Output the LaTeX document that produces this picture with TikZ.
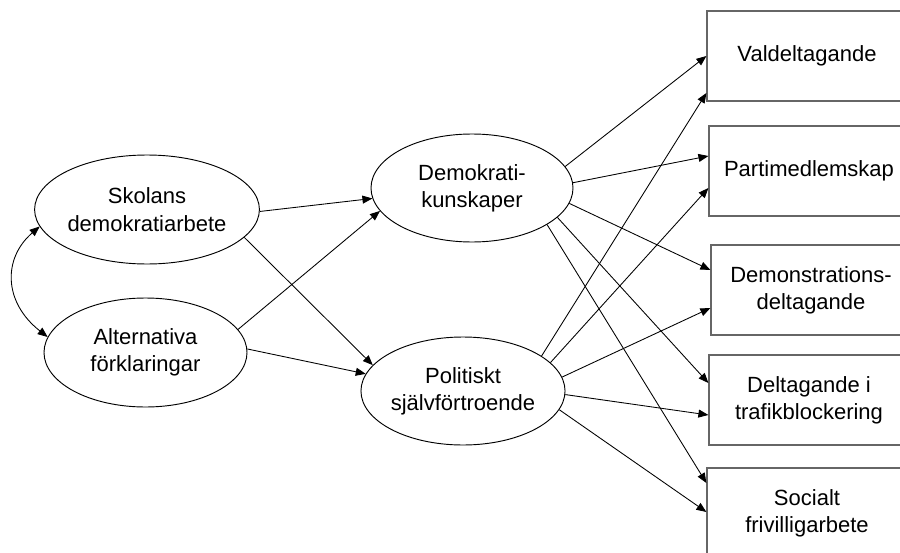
\documentclass[tikz,border=0pt]{standalone}
\usepackage{fontspec}
\setmainfont{Liberation Sans}
\usetikzlibrary{shapes.geometric,arrows.meta}
\begin{document}
\begin{tikzpicture}[x=0.75pt,y=-0.75pt,
  labelfont/.style={font=\fontsize{16.5}{20.5}\selectfont},
  latent/.style={ellipse,draw=black,line width=0.7pt,inner sep=0pt,
    align=center,labelfont},
  outcome/.style={rectangle,draw=black!60,line width=0.9pt,inner sep=0pt,
    minimum width=150pt,minimum height=67.5pt,align=center,labelfont},
  link/.style={-{Triangle[length=7.5pt,width=6pt]},line width=0.65pt},
  covar/.style={{Triangle[length=7.5pt,width=6pt]}-{Triangle[length=7.5pt,width=6pt]},line width=0.65pt}
]
% frame of the page
\useasboundingbox (0,0) rectangle (900,553);
\clip (0,0) rectangle (900,553);

% latent variables
\node[latent,minimum width=151.5pt,minimum height=81.75pt] (S) at (147,209.5) {Skolans\\demokratiarbete};
\node[latent,minimum width=152.25pt,minimum height=81.75pt] (A) at (145.5,352.5) {Alternativa\\förklaringar};
\node[latent,minimum width=151.5pt,minimum height=81pt] (D) at (472,188) {Demokrati-\\kunskaper};
\node[latent,minimum width=150pt,minimum height=81pt] (P) at (463,391) {Politiskt\\självförtroende};

% outcome measures
\node[outcome] (V)   at (807,56)  {Valdeltagande};
\node[outcome] (Pm)  at (809,171) {Partimedlemskap};
\node[outcome] (Dm)  at (811,290) {Demonstrations-\\deltagande};
\node[outcome] (Tb)  at (809,400) {Deltagande i\\trafikblockering};
\node[outcome] (Sf)  at (807,513) {Socialt\\frivilligarbete};

% correlation between the exogenous variables
\draw[covar] (S.189) .. controls (3,258) and (3,302) .. (A.171);

% paths into the mediators
\draw[link] (S.-1)  -- (D.186);
\draw[link] (S.-16) -- (P.164);
\draw[link] (A.14)  -- (D.194);
\draw[link] (A.2.5) -- (P.170.5);

% paths from Demokratikunskaper
\draw[link] (D.13)  -- ([yshift=0pt]V.west);
\draw[link] (D.3)   -- ([yshift=11.25pt]Pm.west);
\draw[link] (D.-9)  -- ([yshift=15pt]Dm.west);
\draw[link] (D.-19) -- ([yshift=12.75pt]Tb.west);
\draw[link] (D.-26) -- ([yshift=22.5pt]Sf.west);

% paths from Politiskt självförtroende
\draw[link] (P.24.5) -- ([yshift=-27.75pt]V.west);
\draw[link] (P.18)   -- ([yshift=-12.75pt]Pm.west);
\draw[link] (P.8)    -- ([yshift=-13.5pt]Dm.west);
\draw[link] (P.-2)   -- ([yshift=-11.25pt]Tb.west);
\draw[link] (P.-11)  -- ([yshift=0.75pt]Sf.west);
\end{tikzpicture}
\end{document}
